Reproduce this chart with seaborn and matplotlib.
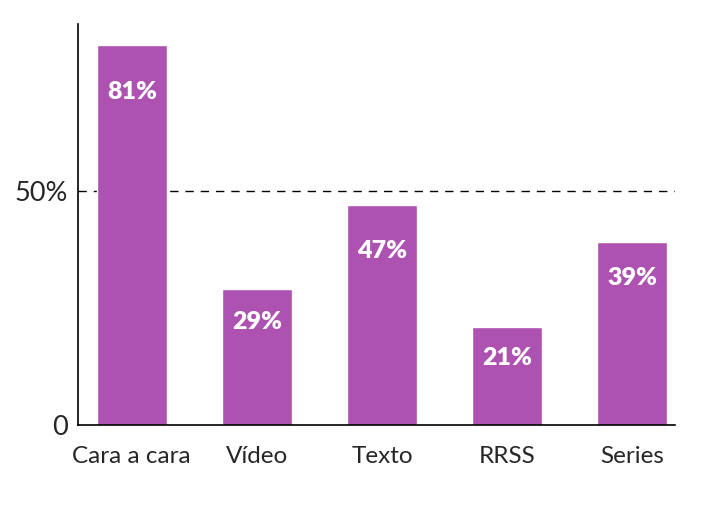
import pandas as pd
import matplotlib.pyplot as plt
import seaborn as sns

categories = ['Cara a cara', 'Vídeo', 'Texto', 'RRSS', 'Series']
values = [81, 29, 47, 21, 39]
label_drop = [47, 33, 46, 31, 36]  # px below bar top for the value labels

sns.set_style('white')
plt.rcParams['font.family'] = ['Lato', 'DejaVu Sans']

df = pd.DataFrame({'cat': categories, 'val': values})

fig = plt.figure(figsize=(7.09, 5.16), dpi=100)
ax = fig.add_axes([0.110, 0.1764, 0.842, 0.777])

ax.axhline(50, color='black', lw=1, ls=(0, (6, 5)), zorder=0)
sns.barplot(data=df, x='cat', y='val', color='#AD52B0', saturation=1,
            width=0.56, ax=ax, zorder=2)

for i, (v, d) in enumerate(zip(values, label_drop)):
    ax.annotate(f'{v}%', (i, v), xytext=(0, -d * 0.72), textcoords='offset points',
                ha='center', va='center', color='white', fontsize=18,
                fontweight='heavy')

ax.set_ylim(0, 85.5)
ax.set_xlim(-0.43, 4.34)
ax.set_yticks([0, 50], labels=['0', '50%'])
ax.tick_params(axis='y', length=0, pad=7, labelsize=19.5)
ax.tick_params(axis='x', length=0, pad=15, labelsize=17.5)
ax.set_xlabel('')
ax.set_ylabel('')
for s in ['top', 'right']:
    ax.spines[s].set_visible(False)
for s in ['left', 'bottom']:
    ax.spines[s].set_color('black')
    ax.spines[s].set_linewidth(1.2)

fig.savefig('out.png', dpi=100)
